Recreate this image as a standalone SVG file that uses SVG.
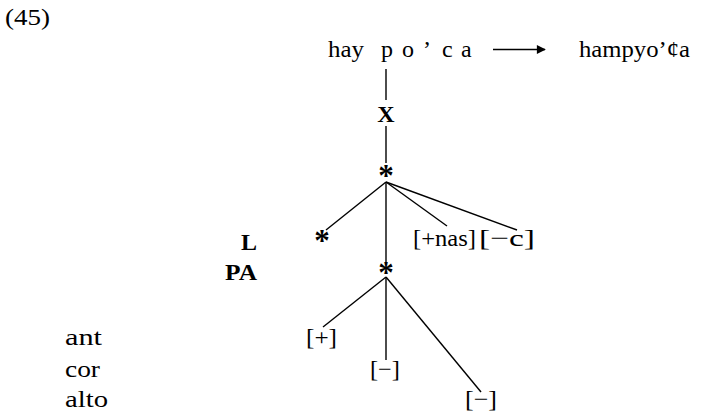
<svg xmlns="http://www.w3.org/2000/svg" width="707" height="412" viewBox="0 0 707 412">
<style>
text{font-family:"Liberation Serif","DejaVu Serif",serif;font-size:24px;fill:#000}
.b{font-weight:bold}
.st{font-weight:bold;font-size:31px}
line{stroke:#000;stroke-width:1.4}
</style>
<defs>
<marker id="ah" viewBox="0 0 10 10" refX="9" refY="5" markerWidth="11" markerHeight="9" markerUnits="userSpaceOnUse" orient="auto">
<path d="M0,0 L10,5 L0,10 z" fill="#000"/>
</marker>
</defs>
<rect width="707" height="412" fill="#fff"/>
<g id="connectors">
<line x1="386" y1="69" x2="386" y2="100"/>
<line x1="386" y1="126" x2="386" y2="163"/>
<line x1="386" y1="182" x2="326" y2="230"/>
<line x1="386" y1="182" x2="447" y2="226"/>
<line x1="386" y1="182" x2="517" y2="230"/>
<line x1="386" y1="182" x2="386" y2="262"/>
<line x1="386" y1="277" x2="323" y2="327"/>
<line x1="386" y1="277" x2="386" y2="360"/>
<line x1="386" y1="277" x2="481" y2="392"/>
<line x1="493" y1="49.5" x2="545" y2="49.5" stroke-width="2.2" marker-end="url(#ah)"/>
</g>
<g id="label"><text x="5" y="25" textLength="45" lengthAdjust="spacingAndGlyphs">(45)</text></g>
<g id="input">
<text x="328" y="57" textLength="36" lengthAdjust="spacingAndGlyphs">hay</text>
<text x="381" y="57">p</text>
<text x="402" y="57">o</text>
<text x="423" y="57">’</text>
<text x="442" y="57">c</text>
<text x="461" y="57">a</text>
</g>
<g id="output"><text x="579" y="57" textLength="111" lengthAdjust="spacingAndGlyphs">hampyo’ȼa</text></g>
<g id="X"><text class="b" x="386" y="122" text-anchor="middle" font-size="25">X</text></g>
<g id="root"><text class="st" x="386" y="186" text-anchor="middle">*</text></g>
<g id="Lstar"><text class="st" x="322" y="251" text-anchor="middle">*</text></g>
<g id="PAstar"><text class="st" x="386" y="283" text-anchor="middle">*</text></g>
<g id="nas"><text x="413" y="246" textLength="63" lengthAdjust="spacingAndGlyphs">[+nas]</text></g>
<g id="c"><text x="479" y="246" textLength="56" lengthAdjust="spacingAndGlyphs">[−c]</text></g>
<g id="tierL"><text class="b" x="257" y="250" text-anchor="end">L</text></g>
<g id="tierPA"><text class="b" x="257" y="280" text-anchor="end" textLength="32" lengthAdjust="spacingAndGlyphs">PA</text></g>
<g id="ant"><text x="65" y="345" textLength="37" lengthAdjust="spacingAndGlyphs">ant</text></g>
<g id="cor"><text x="65" y="377" textLength="35" lengthAdjust="spacingAndGlyphs">cor</text></g>
<g id="alto"><text x="65" y="407" textLength="43" lengthAdjust="spacingAndGlyphs">alto</text></g>
<g id="antval"><text x="306" y="345" textLength="31" lengthAdjust="spacingAndGlyphs">[+]</text></g>
<g id="corval"><text x="370" y="377" textLength="30" lengthAdjust="spacingAndGlyphs">[−]</text></g>
<g id="altoval"><text x="465" y="407" textLength="32" lengthAdjust="spacingAndGlyphs">[−]</text></g>
</svg>
